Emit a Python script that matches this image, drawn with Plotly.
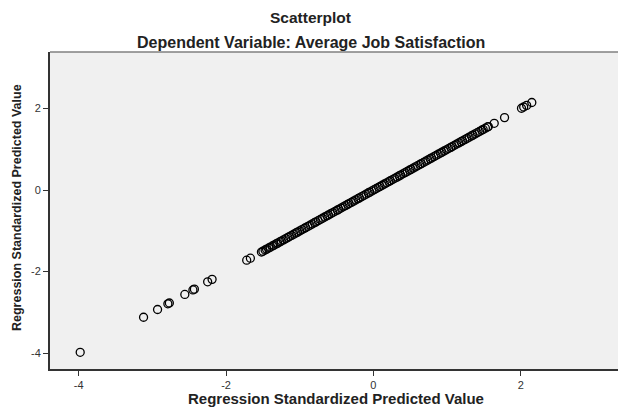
import plotly.graph_objects as go

# Regression standardized predicted values (plotted against themselves)
outliers_low = [-3.98, -3.12, -2.93, -2.79, -2.77, -2.56, -2.45, -2.43, -2.25, -2.19, -1.72, -1.67]
dense_band = [-1.52, -1.50, -1.47, -1.45, -1.42, -1.40, -1.37, -1.35, -1.32, -1.30, -1.27, -1.25,
              -1.22, -1.19, -1.16, -1.14, -1.11, -1.08, -1.05, -1.03, -1.00, -0.97, -0.94, -0.92,
              -0.89, -0.86, -0.83, -0.80, -0.78, -0.75, -0.72, -0.69, -0.66, -0.63, -0.61, -0.58,
              -0.55, -0.52, -0.49, -0.47, -0.44, -0.41, -0.38, -0.35, -0.33, -0.30, -0.27, -0.24,
              -0.21, -0.19, -0.16, -0.13, -0.10, -0.07, -0.05, -0.02, 0.01, 0.04, 0.07, 0.09,
              0.12, 0.15, 0.18, 0.21, 0.23, 0.26, 0.29, 0.32, 0.35, 0.37, 0.40, 0.43, 0.46, 0.49,
              0.51, 0.54, 0.57, 0.60, 0.63, 0.65, 0.68, 0.71, 0.74, 0.77, 0.79, 0.82, 0.85, 0.88,
              0.91, 0.93, 0.96, 0.99, 1.02, 1.05, 1.07, 1.10, 1.13, 1.16, 1.19, 1.21, 1.24, 1.27,
              1.30, 1.33, 1.35, 1.38, 1.41, 1.44, 1.47, 1.49, 1.52, 1.55, 1.56]
outliers_high = [1.64, 1.78, 2.01, 2.04, 2.08, 2.15]

predicted_std = outliers_low + dense_band + outliers_high

x_ticks = [-4, -2, 0, 2]
y_ticks = [-4, -2, 0, 2]
x_ticklabels = ["-4", "-2", "0", "2"]
y_ticklabels = ["-4", "-2", "0", "2"]

FONT = "Liberation Sans, Arial, sans-serif"
W, H = 618, 409
ML, MR, MT, MB = 50, 0, 52, 40
plot_w = W - ML - MR
plot_h = H - MT - MB


def py(pix_y):
    """pixel y from top -> paper coordinate"""
    return 1 + (MT - pix_y) / plot_h


def px(pix_x):
    return (pix_x - ML) / plot_w


fig = go.Figure()
fig.add_trace(go.Scatter(
    x=predicted_std, y=predicted_std, mode="markers",
    marker=dict(symbol="circle-open", size=8, color="#000000", line=dict(width=1.3, color="#000000")),
    hoverinfo="skip", showlegend=False,
))

fig.update_layout(
    width=W, height=H,
    margin=dict(l=ML, r=MR, t=MT, b=MB, autoexpand=False),
    paper_bgcolor="white", plot_bgcolor="#f0f0f0",
    font=dict(family=FONT, color="#222222"),
    annotations=[
        dict(text="<b>Scatterplot</b>", x=px(310), y=py(17), xref="paper", yref="paper",
             xanchor="center", yanchor="middle", showarrow=False,
             font=dict(size=15.5, family=FONT, color="#222222")),
        dict(text="<b>Dependent Variable: Average Job Satisfaction</b>", x=px(311), y=py(43),
             xref="paper", yref="paper", xanchor="center", yanchor="middle", showarrow=False,
             font=dict(size=16, family=FONT, color="#222222")),
        dict(text="<b>Regression Standardized Predicted Value</b>", x=px(336), y=py(398),
             xref="paper", yref="paper", xanchor="center", yanchor="middle", showarrow=False,
             font=dict(size=15, family=FONT, color="#222222")),
        dict(text="<b>Regression Standardized Predicted Value</b>", x=px(17), y=py(208),
             xref="paper", yref="paper", xanchor="center", yanchor="middle", showarrow=False,
             textangle=-90, font=dict(size=12.5, family=FONT, color="#222222")),
    ],
)

fig.update_xaxes(
    range=[-4.39, 3.32], tickvals=x_ticks, ticktext=x_ticklabels,
    showgrid=False, zeroline=False, automargin=False,
    showline=True, linecolor="#333333", linewidth=2, mirror=False,
    ticks="outside", ticklen=5, tickcolor="#333333", tickwidth=1,
    tickfont=dict(size=11, family=FONT, color="#333333"),
)
fig.update_yaxes(
    range=[-4.39, 3.39], tickvals=y_ticks, ticktext=y_ticklabels,
    showgrid=False, zeroline=False, automargin=False,
    showline=True, linecolor="#333333", linewidth=2,
    ticks="outside", ticklen=5, tickcolor="#333333", tickwidth=1,
    tickfont=dict(size=11, family=FONT, color="#333333"),
)
# light top border of the plot area
fig.add_shape(type="line", xref="paper", yref="paper", x0=0, x1=1, y0=1, y1=1,
              line=dict(color="#808080", width=1.5))

fig.write_html("out.html", config={"displayModeBar": False},
               post_script="document.body.style.margin='0';document.body.style.overflow='hidden';")
